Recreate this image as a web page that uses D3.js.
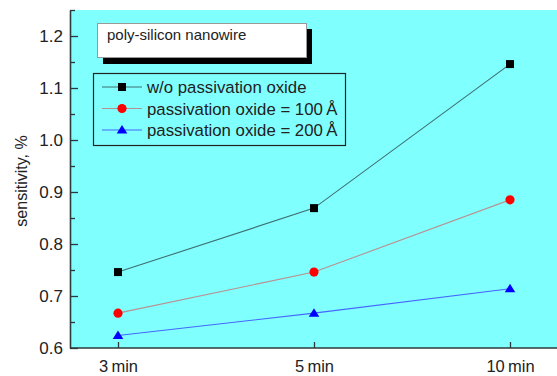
<!DOCTYPE html>
<html>
<head>
<meta charset="utf-8">
<script src="https://cdnjs.cloudflare.com/ajax/libs/d3/7.8.5/d3.min.js"></script>
<style>
  body { margin: 0; background: #fff; }
  svg { display: block; font-family: "Liberation Sans", Arial, sans-serif; }
</style>
</head>
<body>
<div id="chart"></div>
<script>
// Data
const times = ["3 min", "5 min", "10 min"];
const noOxide = [0.746, 0.869, 1.146];
const oxide100 = [0.667, 0.746, 0.885];
const oxide200 = [0.624, 0.667, 0.714];
const yTicks = [0.6, 0.7, 0.8, 0.9, 1.0, 1.1, 1.2];
const yMinor = [0.65, 0.75, 0.85, 0.95, 1.05, 1.15, 1.25];

const width = 557;
const height = 376;
let margin = { top: 10, right: 0, bottom: 28, left: 70 };

let svg = d3.select("#chart")
    .append("svg")
    .attr("width", width)
    .attr("height", height);

// plot background
svg.append("rect")
    .attr("x", margin.left)
    .attr("y", margin.top)
    .attr("width", width - margin.left - margin.right)
    .attr("height", height - margin.top - margin.bottom)
    .attr("fill", "#80ffff");

let x = d3.scalePoint()
    .domain(times)
    .range([118, 510]);

let y = d3.scaleLinear()
    .domain([0.6, 1.25])
    .range([height - margin.bottom, margin.top]);

const axisColor = "#2b3b3b";

// minor y ticks
svg.append("g")
    .attr("transform", "translate(" + margin.left + ",0)")
    .call(d3.axisLeft(y).tickValues(yMinor).tickSize(-5).tickFormat(""))
    .call(g => g.select(".domain").remove())
    .call(g => g.selectAll("line").attr("stroke", axisColor).attr("stroke-width", 1.3));

// major y axis
svg.append("g")
    .attr("transform", "translate(" + margin.left + ",0)")
    .call(d3.axisLeft(y).tickValues(yTicks).tickSizeInner(-8).tickSizeOuter(0)
        .tickPadding(7).tickFormat(d3.format(".1f")))
    .call(g => g.select(".domain").attr("stroke", axisColor).attr("stroke-width", 1.6))
    .call(g => g.selectAll("line").attr("stroke", axisColor).attr("stroke-width", 1.3))
    .call(g => g.selectAll("text")
        .attr("fill", "#222")
        .style("font-size", "17px"));

// x axis
let xAxis = svg.append("g")
    .attr("transform", "translate(0," + (height - margin.bottom) + ")")
    .call(d3.axisBottom(x).tickSizeInner(-6).tickSizeOuter(0).tickPadding(12));
xAxis.select(".domain")
    .attr("d", "M" + margin.left + ",0H" + width)
    .attr("stroke", axisColor)
    .attr("stroke-width", 1.6);
xAxis.selectAll("line").attr("stroke", axisColor).attr("stroke-width", 1.3);
xAxis.selectAll("text")
    .attr("fill", "#222")
    .style("font-size", "16.5px")
    .text((d) => d.replace(" ", "\u2009"));

// y label
svg.append("text")
    .attr("transform", "translate(27,181) rotate(-90)")
    .attr("text-anchor", "middle")
    .attr("fill", "#222")
    .style("font-size", "16px")
    .text("sensitivity, %");

// series
const series = [
    { name: "w/o passivation oxide", values: noOxide, line: "#3f6f6f", fill: "#000", shape: "square" },
    { name: "passivation oxide = 100\u2009Å", values: oxide100, line: "#b89090", fill: "#ff0000", shape: "circle" },
    { name: "passivation oxide = 200\u2009Å", values: oxide200, line: "#4466ff", fill: "#0000ff", shape: "triangle" },
];

const marker = (shape) => {
    if (shape === "square") return "M-4,-4H4V4H-4Z";
    if (shape === "circle") return d3.symbol(d3.symbolCircle, 66)();
    return "M0,-5L5.3,3.5H-5.3Z";
};

let line = d3.line()
    .x((d, i) => x(times[i]))
    .y((d) => y(d));

series.forEach((s) => {
    svg.append("path")
        .datum(s.values)
        .attr("fill", "none")
        .attr("stroke", s.line)
        .attr("stroke-width", 1.1)
        .attr("d", line);
    svg.append("g")
        .selectAll("path")
        .data(s.values)
        .enter()
        .append("path")
        .attr("transform", (d, i) => "translate(" + x(times[i]) + "," + y(d) + ")")
        .attr("d", marker(s.shape))
        .attr("fill", s.fill);
});

// title box with shadow
svg.append("rect")
    .attr("x", 103).attr("y", 29)
    .attr("width", 209).attr("height", 35)
    .attr("fill", "#000");
svg.append("rect")
    .attr("x", 97.5).attr("y", 23.5)
    .attr("width", 209).attr("height", 34)
    .attr("fill", "#fff")
    .attr("stroke", "#999")
    .attr("stroke-width", 1);
svg.append("text")
    .attr("x", 107).attr("y", 39.5)
    .attr("fill", "#222")
    .style("font-size", "15px")
    .text("poly-silicon nanowire");

// legend
let legend = svg.append("g");
legend.append("rect")
    .attr("x", 93.5).attr("y", 73.5)
    .attr("width", 252).attr("height", 72)
    .attr("fill", "none")
    .attr("stroke", "#222")
    .attr("stroke-width", 1.2);

series.forEach((s, i) => {
    let ly = 87 + i * 21.5;
    let row = legend.append("g");
    row.append("line")
        .attr("x1", 102).attr("x2", 142)
        .attr("y1", ly).attr("y2", ly)
        .attr("stroke", s.line)
        .attr("stroke-width", 1.1);
    row.append("path")
        .attr("transform", "translate(122," + ly + ")")
        .attr("d", marker(s.shape))
        .attr("fill", s.fill);
    row.append("text")
        .attr("x", 147).attr("y", ly + 6)
        .attr("fill", "#222")
        .style("font-size", "16.8px")
        .text(s.name);
});
</script>
</body>
</html>
